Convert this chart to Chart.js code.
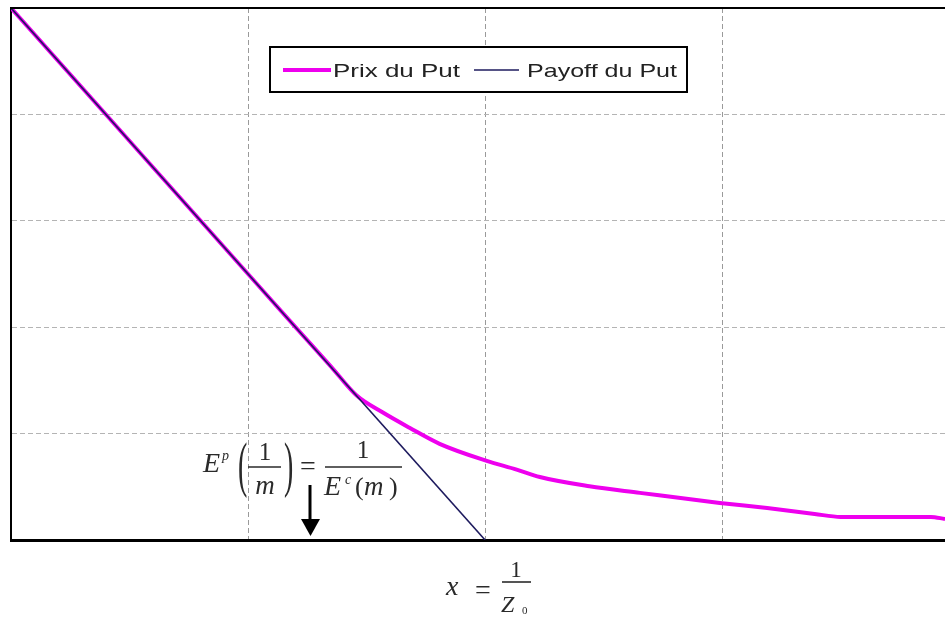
<!DOCTYPE html>
<html>
<head>
<meta charset="utf-8">
<script src="https://cdn.jsdelivr.net/npm/chart.js@4.4.1/dist/chart.umd.min.js"></script>
<style>
  html, body { margin: 0; padding: 0; background: #fff; overflow: hidden; }
  #wrap { width: 945px; height: 617px; }
</style>
</head>
<body>
<div id="wrap"><canvas id="put-chart" width="945" height="617"></canvas></div>
<script>
// underlying price (x axis units) and put price
const spotValues = [0, 0.5, 1.0, 1.2, 1.35, 1.457, 1.567, 1.681, 1.808, 2.007, 2.133, 2.231, 2.44, 2.653, 2.99, 3.19, 3.39, 3.5, 3.88, 3.94];
const putPrices = [5.0, 3.75, 2.5, 2.0, 1.63, 1.36, 1.2, 1.055, 0.904, 0.744, 0.662, 0.592, 0.505, 0.443, 0.348, 0.3, 0.245, 0.217, 0.217, 0.198];

// payoff of the put : max(K - x, 0)
const payoffSpots = [0, 2];
const payoffValues = [5, 0];

const seriesNames = ['Prix du Put', 'Payoff du Put'];
const seriesColors = ['#ee00ee', '#1e1b5e'];

const X_MAX = 3.94;
const Y_MAX = 5;

function toPoints(xs, ys) {
  return xs.map((x, i) => ({ x: x, y: ys[i] }));
}

// draws a string stretched to a given width (the original font is wide)
function fitText(ctx, text, x, y, width) {
  const w = ctx.measureText(text).width;
  ctx.save();
  ctx.translate(x, y);
  ctx.scale(width / w, 1);
  ctx.fillText(text, 0, 0);
  ctx.restore();
}

function tallParen(ctx, ch, x, y, sy) {
  ctx.save();
  ctx.translate(x, y);
  ctx.scale(1, sy);
  ctx.fillText(ch, 0, 0);
  ctx.restore();
}

function hLine(ctx, x1, x2, y) {
  ctx.beginPath();
  ctx.moveTo(x1, y);
  ctx.lineTo(x2, y);
  ctx.stroke();
}

const SERIF = '"Liberation Serif", "Times New Roman", serif';

// frame top line, legend box and the formulas
const decorPlugin = {
  id: 'decor',
  afterDraw(chart) {
    const ctx = chart.ctx;
    const area = chart.chartArea;
    ctx.save();

    // top frame line
    ctx.strokeStyle = '#000';
    ctx.lineWidth = 2;
    hLine(ctx, area.left, area.right, area.top);

    // legend
    ctx.fillStyle = '#fff';
    ctx.fillRect(270, 47, 417, 45);
    ctx.lineWidth = 2;
    ctx.strokeRect(270, 47, 417, 45);

    ctx.strokeStyle = seriesColors[0];
    ctx.lineWidth = 4;
    hLine(ctx, 283, 331, 70);
    ctx.strokeStyle = seriesColors[1];
    ctx.lineWidth = 1.6;
    hLine(ctx, 474, 519, 70);

    ctx.fillStyle = '#222';
    ctx.font = '19px "Liberation Sans", Arial, sans-serif';
    ctx.textBaseline = 'alphabetic';
    fitText(ctx, seriesNames[0], 333, 77, 127);
    fitText(ctx, seriesNames[1], 527, 77, 150);

    // E^p(1/m) = 1 / E^c(m)
    ctx.fillStyle = '#2a2a2a';
    ctx.strokeStyle = '#2a2a2a';
    ctx.textAlign = 'left';
    ctx.font = 'italic 28px ' + SERIF;
    ctx.fillText('E', 203, 472);
    ctx.font = 'italic 14px ' + SERIF;
    ctx.fillText('p', 222, 460);
    ctx.font = '28px ' + SERIF;
    tallParen(ctx, '(', 238, 485, 2.2);
    tallParen(ctx, ')', 284, 485, 2.2);
    ctx.textAlign = 'center';
    ctx.font = '25px ' + SERIF;
    ctx.fillText('1', 265, 460);
    ctx.font = 'italic 27px ' + SERIF;
    ctx.fillText('m', 265, 494);
    ctx.lineWidth = 1.6;
    hLine(ctx, 248, 281, 467);
    ctx.font = '28px ' + SERIF;
    ctx.fillText('=', 308, 475);
    ctx.font = '25px ' + SERIF;
    ctx.fillText('1', 363, 458);
    hLine(ctx, 325, 402, 467);
    ctx.textAlign = 'left';
    ctx.font = 'italic 28px ' + SERIF;
    ctx.fillText('E', 324, 495);
    ctx.font = 'italic 14px ' + SERIF;
    ctx.fillText('c', 345, 484);
    ctx.font = '26px ' + SERIF;
    ctx.fillText('(', 355, 495);
    ctx.font = 'italic 27px ' + SERIF;
    ctx.fillText('m', 364, 495);
    ctx.font = '26px ' + SERIF;
    ctx.fillText(')', 389, 495);

    // arrow down to the axis
    ctx.fillStyle = '#000';
    ctx.strokeStyle = '#000';
    ctx.lineWidth = 3;
    ctx.beginPath();
    ctx.moveTo(310, 485);
    ctx.lineTo(310, 522);
    ctx.stroke();
    ctx.beginPath();
    ctx.moveTo(301, 519);
    ctx.lineTo(320, 519);
    ctx.lineTo(310.5, 536);
    ctx.closePath();
    ctx.fill();

    // x = 1 / Z0
    ctx.fillStyle = '#2a2a2a';
    ctx.strokeStyle = '#2a2a2a';
    ctx.font = 'italic 28px ' + SERIF;
    ctx.fillText('x', 446, 595);
    ctx.font = '28px ' + SERIF;
    ctx.fillText('=', 475, 599);
    ctx.textAlign = 'center';
    ctx.font = '23px ' + SERIF;
    ctx.fillText('1', 516, 577);
    ctx.lineWidth = 1.6;
    hLine(ctx, 502, 531, 582);
    ctx.textAlign = 'left';
    ctx.font = 'italic 24px ' + SERIF;
    ctx.fillText('Z', 501, 612);
    ctx.font = '11px ' + SERIF;
    ctx.fillText('0', 522, 614);

    ctx.restore();
  }
};

const ctx = document.getElementById('put-chart').getContext('2d');
const putChart = new Chart(ctx, {
  type: 'line',
  data: {
    datasets: [
      {
        label: seriesNames[1],
        data: toPoints(payoffSpots, payoffValues),
        borderColor: seriesColors[1],
        borderWidth: 1.6,
        pointRadius: 0,
        order: 0,
      },
      {
        label: seriesNames[0],
        data: toPoints(spotValues, putPrices),
        borderColor: seriesColors[0],
        borderWidth: 4,
        pointRadius: 0,
        cubicInterpolationMode: 'monotone',
        order: 1,
      },
    ],
  },
  options: {
    responsive: false,
    animation: false,
    layout: { padding: { left: 11, top: 8, right: 0, bottom: 77 } },
    plugins: {
      legend: { display: false },
      tooltip: { enabled: false },
    },
    scales: {
      x: {
        type: 'linear',
        min: 0,
        max: X_MAX,
        ticks: { display: false, stepSize: 1, includeBounds: false },
        grid: { color: '#9a9a9a', lineWidth: 1, drawTicks: false },
        border: { display: true, color: '#000', width: 3, dash: [5, 3] },
      },
      y: {
        min: 0,
        max: Y_MAX,
        ticks: { display: false, stepSize: 1 },
        grid: { color: '#b4b4b4', lineWidth: 1, drawTicks: false },
        border: { display: true, color: '#000', width: 2, dash: [5, 3] },
      },
    },
  },
  plugins: [decorPlugin],
});
</script>
</body>
</html>
